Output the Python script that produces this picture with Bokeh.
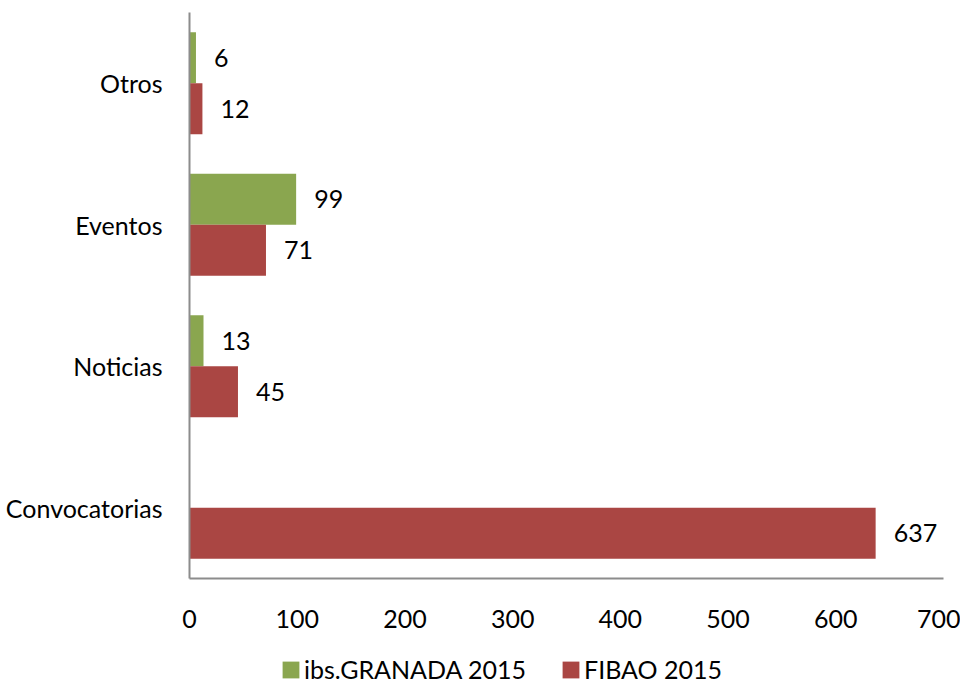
from bokeh.plotting import figure
from bokeh.layouts import column
from bokeh.models import ColumnDataSource, FactorRange, Range1d, FixedTicker, Legend, LegendItem
from bokeh.transform import dodge
from bokeh.core.properties import value
from bokeh.embed import file_html
from bokeh.resources import INLINE

categories = ["Convocatorias", "Noticias", "Eventos", "Otros"]
ibs_granada = [float("nan"), 13, 99, 6]
fibao = [637, 45, 71, 12]
series_names = ["ibs.GRANADA 2015", "FIBAO 2015"]
x_ticks = [0, 100, 200, 300, 400, 500, 600, 700]

GREEN = "#8AA64F"
RED = "#AA4643"
FONT = "Lato"
FS = "25px"

src = ColumnDataSource(dict(cat=categories, g=ibs_granada, r=fibao,
                            gl=["" if v != v else str(int(v)) for v in ibs_granada],
                            rl=[str(v) for v in fibao]))

p = figure(width=960, height=646, y_range=FactorRange(factors=categories),
           x_range=Range1d(0, 700), output_backend="svg", toolbar_location=None,
           min_border_left=189, min_border_right=17, min_border_top=12, min_border_bottom=68)

bh = 0.36
p.hbar(y=dodge("cat", bh / 2, range=p.y_range), right="g", left=0, height=bh,
       source=src, fill_color=GREEN, line_color=None)
p.hbar(y=dodge("cat", -bh / 2, range=p.y_range), right="r", left=0, height=bh,
       source=src, fill_color=RED, line_color=None)

p.text(x="g", y=dodge("cat", bh / 2, range=p.y_range), text="gl", source=src,
       x_offset=18, text_align="left", text_baseline="middle",
       text_font=value(FONT), text_font_size=FS, text_color="black")
p.text(x="r", y=dodge("cat", -bh / 2, range=p.y_range), text="rl", source=src,
       x_offset=18, text_align="left", text_baseline="middle",
       text_font=value(FONT), text_font_size=FS, text_color="black")

p.xgrid.grid_line_color = None
p.ygrid.grid_line_color = None
p.outline_line_color = None

p.xaxis.ticker = FixedTicker(ticks=x_ticks)
for ax in (p.xaxis[0], p.yaxis[0]):
    ax.axis_line_color = "#8C8C8C"
    ax.axis_line_width = 2
    ax.major_tick_line_color = None
    ax.minor_tick_line_color = None
    ax.major_label_text_font = FONT
    ax.major_label_text_font_size = FS
    ax.major_label_text_color = "black"
p.xaxis.major_label_standoff = 25
p.yaxis.major_label_standoff = 21

# legend strip (its swatches take their colours from zero-width bars)
lg = figure(width=960, height=38, x_range=Range1d(0, 1), y_range=Range1d(0, 1),
            output_backend="svg", toolbar_location=None,
            x_axis_location=None, y_axis_location=None,
            min_border=0)
lg.grid.grid_line_color = None
lg.outline_line_color = None
swatch = ColumnDataSource(dict(y=[0], right=[0]))
dg = lg.hbar(y="y", right="right", left=0, height=0, source=swatch, fill_color=GREEN, line_color=None)
dr = lg.hbar(y="y", right="right", left=0, height=0, source=swatch, fill_color=RED, line_color=None)
legend = Legend(items=[LegendItem(label=series_names[0], renderers=[dg]),
                       LegendItem(label=series_names[1], renderers=[dr])],
                orientation="horizontal", location=(91, 0),
                label_text_font=FONT, label_text_font_size=FS, label_text_color="black",
                glyph_width=21, glyph_height=21, spacing=34, label_standoff=3,
                margin=0, padding=0,
                border_line_color=None, background_fill_alpha=0)
lg.add_layout(legend, "center")

layout = column(p, lg, spacing=0)
open("out.html", "w").write(file_html(layout, INLINE))
